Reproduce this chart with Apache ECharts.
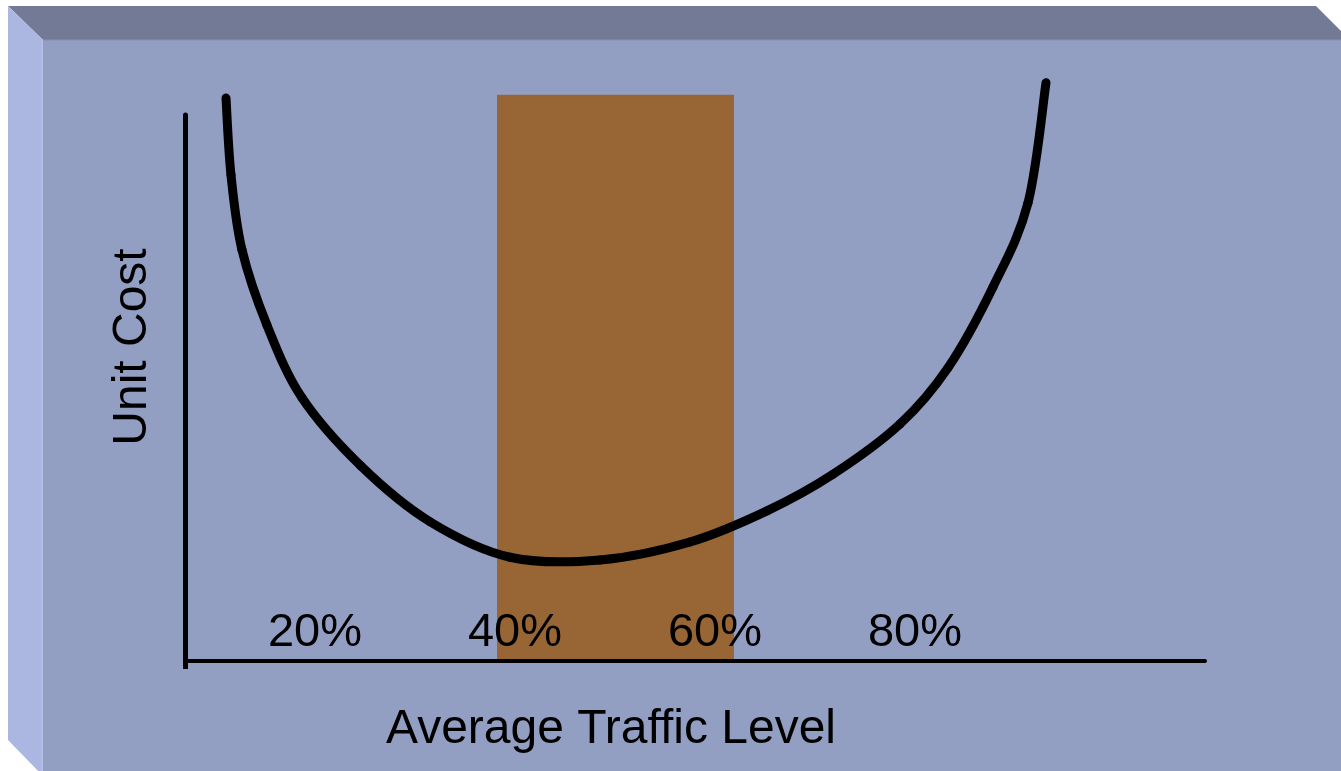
<!DOCTYPE html>
<html>
<head>
<meta charset="utf-8">
<title>Unit Cost vs Average Traffic Level</title>
<script src="https://cdn.jsdelivr.net/npm/echarts@6/dist/echarts.min.js"></script>
<style>
  html, body { margin: 0; padding: 0; background: #fff; }
  #chart { width: 1341px; height: 771px; }
</style>
</head>
<body>
<div id="chart"></div>
<script>
// traffic level (x, %) and unit cost (y, relative)
const curveX = [11.1, 11.6, 12.7, 15.2, 18.7, 24.6, 31.5, 39.5, 48.5, 57.5, 65.2, 71.8, 78.5, 83.3, 87.8, 91.3, 93.1];
const curveY = [103.1, 89.0, 75.3, 61.5, 48.2, 35.7, 25.5, 19.0, 18.5, 21.8, 27.5, 34.2, 43.4, 53.7, 68.5, 83.9, 105.9];

// shaded optimum band
const bandRange = [38.2, 61.9];
const bandTop = 103.7;

// tick labels
const tickValues = [20, 40, 60, 80];
const tickLabels = ['20%', '40%', '60%', '80%'];

const FONT = '"Liberation Sans", Arial, sans-serif';

const chart = echarts.init(document.getElementById('chart'));
chart.setOption({
  animation: false,
  backgroundColor: 'transparent',
  textStyle: { fontFamily: FONT },
  grid: { left: 185, right: 136, top: 115, bottom: 110 },
  graphic: [
    // 3D box: front face, top bevel, left bevel
    { type: 'rect', z: -10, shape: { x: 43, y: 40, width: 1300, height: 735 }, style: { fill: '#929FC3' } },
    { type: 'polygon', z: -9, shape: { points: [[8, 6], [1316, 6], [1350, 40], [43, 40]] }, style: { fill: '#737A96' } },
    { type: 'polygon', z: -9, shape: { points: [[8, 6], [43, 40], [43, 776], [8, 740]] }, style: { fill: '#ABB7E1' } },
    { type: 'line', z: -8, shape: { x1: 42, y1: 40, x2: 42, y2: 775 }, style: { stroke: '#B3BDE6', lineWidth: 2 } },
    { type: 'line', z: -8, shape: { x1: 43, y1: 40, x2: 1341, y2: 40 }, style: { stroke: '#8790B0', lineWidth: 1 } },
    // axis titles
    {
      type: 'text', z: 10, x: 133, y: 347, rotation: Math.PI / 2,
      style: { text: 'Unit Cost', x: 0, y: 0, align: 'center', verticalAlign: 'middle', font: '48px ' + FONT, fill: '#000' }
    },
    {
      type: 'text', z: 10, x: 611, y: 730,
      style: { text: 'Average Traffic Level', x: 0, y: 0, align: 'center', verticalAlign: 'middle', font: '48px ' + FONT, fill: '#000' }
    }
  ],
  xAxis: {
    type: 'value',
    min: 7,
    max: 109,
    z: 5,
    axisLine: { lineStyle: { color: '#000', width: 4 } },
    axisTick: { show: true, customValues: [7], length: 8, lineStyle: { color: '#000', width: 5 } },
    splitLine: { show: false },
    axisLabel: {
      inside: true,
      margin: 4,
      customValues: tickValues,
      color: '#000',
      fontSize: 47,
      fontFamily: FONT,
      formatter: v => tickLabels[tickValues.indexOf(v)]
    }
  },
  yAxis: {
    type: 'value',
    min: 0,
    max: 100,
    z: 5,
    axisLine: { show: true, lineStyle: { color: '#000', width: 5 } },
    axisTick: { show: false },
    axisLabel: { show: false },
    splitLine: { show: false }
  },
  series: [
    {
      type: 'custom',
      z: 1,
      clip: false,
      data: [[bandRange[0], bandRange[1], bandTop]],
      renderItem: (params, api) => {
        const p0 = api.coord([api.value(0), bandTop]);
        const p1 = api.coord([api.value(1), 0]);
        return {
          type: 'rect',
          shape: { x: p0[0], y: p0[1], width: p1[0] - p0[0], height: p1[1] - p0[1] },
          style: { fill: '#976634' }
        };
      }
    },
    {
      // cost curve: catmull-rom bezier segments through the read points
      type: 'custom',
      z: 6,
      clip: false,
      data: curveX.map((x, i) => [x, curveY[i]]),
      renderItem: (params, api) => {
        if (params.dataIndex !== 0) return null;
        const pts = curveX.map((x, i) => api.coord([x, curveY[i]]));
        const n = pts.length;
        const children = [];
        for (let i = 0; i < n - 1; i++) {
          const a = pts[Math.max(i - 1, 0)], b = pts[i], c = pts[i + 1], d = pts[Math.min(i + 2, n - 1)];
          children.push({
            type: 'bezierCurve',
            shape: {
              x1: b[0], y1: b[1],
              cpx1: b[0] + (c[0] - a[0]) / 6, cpy1: b[1] + (c[1] - a[1]) / 6,
              cpx2: c[0] - (d[0] - b[0]) / 6, cpy2: c[1] - (d[1] - b[1]) / 6,
              x2: c[0], y2: c[1]
            },
            style: { stroke: '#000', lineWidth: 9, fill: null, lineCap: 'round' }
          });
        }
        return { type: 'group', children };
      }
    }
  ]
});
</script>
</body>
</html>
